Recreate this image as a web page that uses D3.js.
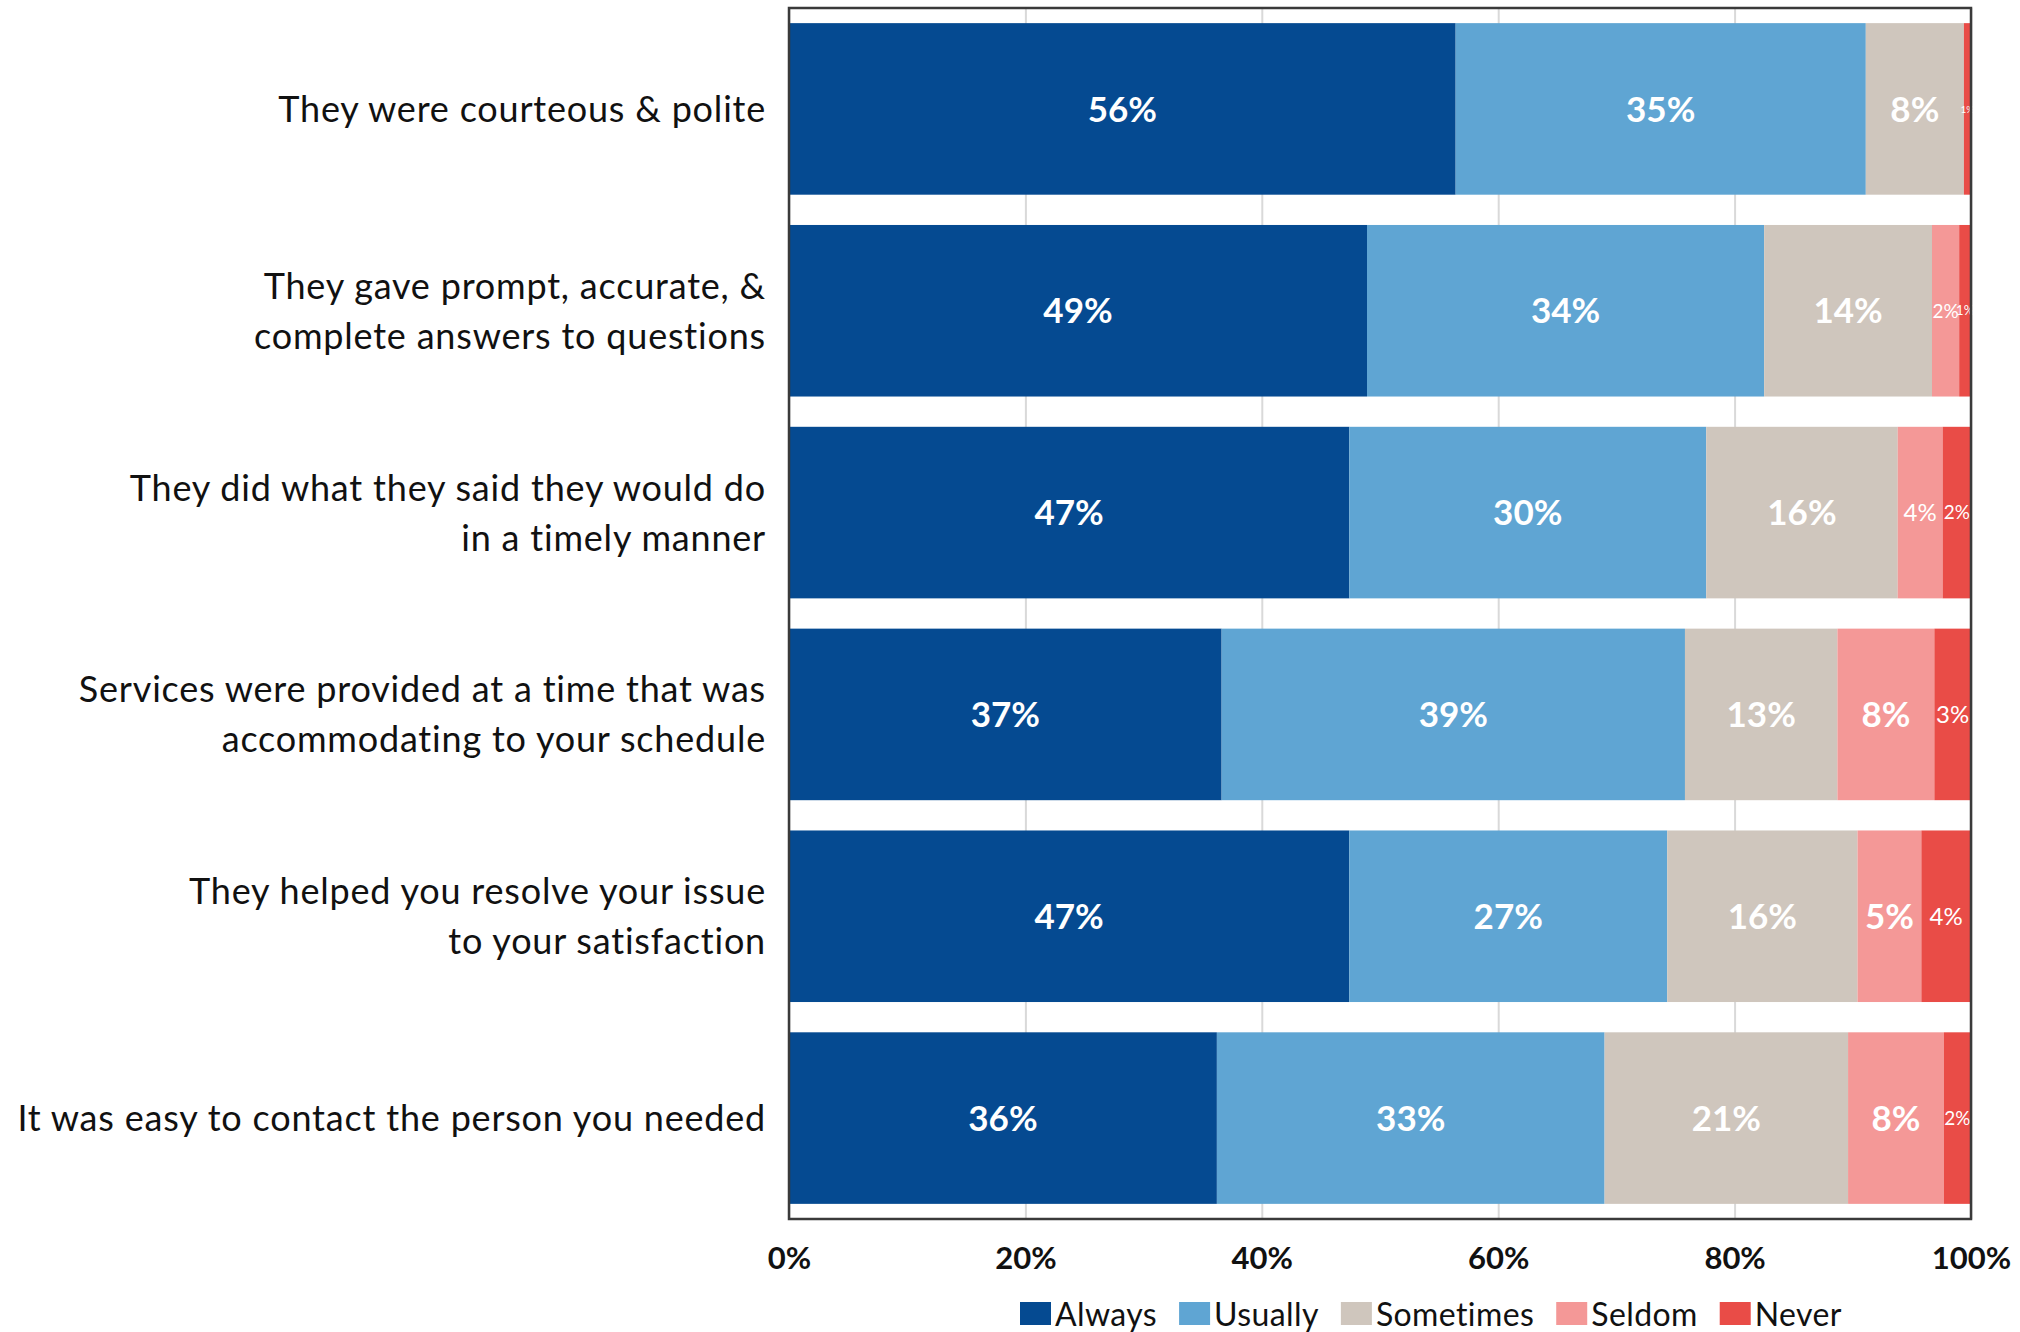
<!DOCTYPE html>
<html>
<head>
<meta charset="utf-8">
<script src="https://cdn.jsdelivr.net/npm/d3@7"></script>
<style>
  html, body { margin: 0; padding: 0; background: #ffffff; }
  svg { display: block; }
  text { font-family: Lato, "Open Sans", sans-serif; }
</style>
</head>
<body>
<svg id="chart" width="2020" height="1332"></svg>
<script>
// Survey statements (line breaks mark where the label wraps)
const categories = [
  "They were courteous & polite",
  "They gave prompt, accurate, &\ncomplete answers to questions",
  "They did what they said they would do\nin a timely manner",
  "Services were provided at a time that was\naccommodating to your schedule",
  "They helped you resolve your issue\nto your satisfaction",
  "It was easy to contact the person you needed"
];

const seriesNames = ["Always", "Usually", "Sometimes", "Seldom", "Never"];

// Share of responses (%) per statement, in the order above
const always    = [56.4, 48.9, 47.4, 36.6, 47.4, 36.2];
const usually   = [34.7, 33.6, 30.2, 39.2, 26.9, 32.8];
const sometimes = [ 8.3, 14.2, 16.2, 12.9, 16.1, 20.6];
const seldom    = [ 0.0,  2.3,  3.8,  8.2,  5.4,  8.1];
const never     = [ 0.6,  1.0,  2.4,  3.1,  4.2,  2.3];

const tickValues = [0, 20, 40, 60, 80, 100];

const seriesColors = ["#054a91", "#5fa5d3", "#cfc6bd", "#f49897", "#e94c47"];

// Rows for the stack layout
const rows = categories.map((c, i) => ({
  category: c,
  Always: always[i],
  Usually: usually[i],
  Sometimes: sometimes[i],
  Seldom: seldom[i],
  Never: never[i]
}));

const svg = d3.select("#chart");

const plot = { left: 789, right: 1971, top: 8, bottom: 1219 };

const x = d3.scaleLinear().domain([0, 100]).range([plot.left, plot.right]);
const y = d3.scaleBand()
  .domain(categories)
  .range([plot.top, plot.bottom])
  .paddingInner(0.15)
  .paddingOuter(0.075);

const color = d3.scaleOrdinal().domain(seriesNames).range(seriesColors);

// Vertical gridlines
svg.append("g")
  .attr("transform", `translate(0,${plot.bottom})`)
  .call(d3.axisBottom(x).tickValues(tickValues).tickSize(-(plot.bottom - plot.top)).tickFormat(""))
  .call(g => g.select(".domain").remove())
  .call(g => g.selectAll(".tick line").attr("stroke", "#d9d9d9").attr("stroke-width", 2));

// Stacked bars
const stacked = d3.stack().keys(seriesNames)(rows);

const layers = svg.append("g").selectAll("g.layer")
  .data(stacked)
  .join("g")
  .attr("class", "layer")
  .attr("fill", d => color(d.key));

layers.selectAll("rect")
  .data(d => d.map(s => ({ key: d.key, s })))
  .join("rect")
  .attr("x", d => x(d.s[0]))
  .attr("y", d => y(d.s.data.category))
  .attr("width", d => Math.max(0, x(d.s[1]) - x(d.s[0])))
  .attr("height", y.bandwidth());

// Value labels inside the segments; narrow segments get smaller type
function labelSize(v) {
  if (v >= 5) return 35;
  if (v >= 3) return 24;
  if (v >= 1.5) return 19;
  if (v >= 0.8) return 13;
  return 10;
}

layers.selectAll("text")
  .data(d => d.map(s => ({ key: d.key, s, v: s[1] - s[0] })).filter(d => d.v > 0))
  .join("text")
  .attr("x", d => (x(d.s[0]) + x(d.s[1])) / 2)
  .attr("y", d => y(d.s.data.category) + y.bandwidth() / 2)
  .attr("dy", "0.36em")
  .attr("text-anchor", "middle")
  .attr("fill", "#ffffff")
  .attr("font-size", d => labelSize(d.v))
  .attr("font-weight", d => d.v >= 5 ? 700 : 400)
  .text(d => Math.round(d.v) + "%");

// Plot frame
svg.append("rect")
  .attr("x", plot.left)
  .attr("y", plot.top)
  .attr("width", plot.right - plot.left)
  .attr("height", plot.bottom - plot.top)
  .attr("fill", "none")
  .attr("stroke", "#3a3a3a")
  .attr("stroke-width", 2.5);

// X axis tick labels
svg.append("g")
  .attr("transform", `translate(0,${plot.bottom})`)
  .call(d3.axisBottom(x).tickValues(tickValues).tickSize(0).tickPadding(28).tickFormat(d => d + "%"))
  .call(g => g.select(".domain").remove())
  .call(g => g.selectAll("text")
    .attr("font-family", "Lato, sans-serif")
    .attr("font-size", 31)
    .attr("font-weight", 700)
    .attr("fill", "#111111"));

// Category labels
const lineGap = 50;
const catG = svg.append("g");
categories.forEach(c => {
  const lines = c.split("\n");
  const cy = y(c) + y.bandwidth() / 2;
  const t = catG.append("text")
    .attr("text-anchor", "end")
    .attr("font-size", 36)
    .attr("letter-spacing", "0.8px")
    .attr("fill", "#111111");
  lines.forEach((ln, i) => {
    t.append("tspan")
      .attr("x", 766)
      .attr("y", cy + (i - (lines.length - 1) / 2) * lineGap)
      .attr("dy", "0.36em")
      .text(ln);
  });
});

// Legend
const legend = svg.append("g").attr("transform", "translate(1020,1314)");
let lx = 0;
seriesNames.forEach(name => {
  const item = legend.append("g").attr("transform", `translate(${lx},0)`);
  item.append("rect")
    .attr("x", 0).attr("y", -12)
    .attr("width", 31).attr("height", 23)
    .attr("fill", color(name));
  const t = item.append("text")
    .attr("x", 35)
    .attr("y", 0)
    .attr("dy", "0.36em")
    .attr("font-size", 32)
    .attr("letter-spacing", "0.4px")
    .attr("fill", "#111111")
    .text(name);
  lx += 35 + t.node().getComputedTextLength() + 22;
});
</script>
</body>
</html>
